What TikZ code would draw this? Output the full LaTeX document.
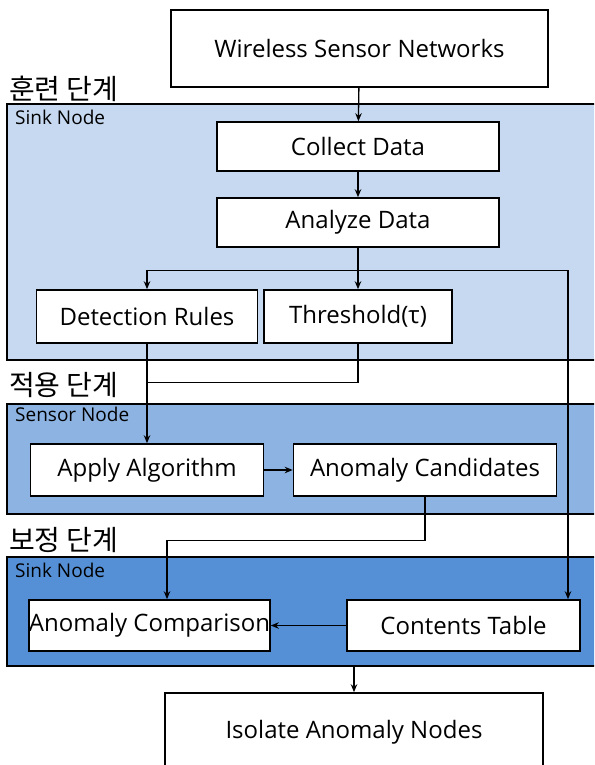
\documentclass[tikz,border=0pt]{standalone}
\usepackage{fontspec}
\setmainfont{Open Sans}
\newfontfamily\kofont{Noto Sans CJK KR}
\usetikzlibrary{arrows.meta,positioning}
\definecolor{trainblue}{HTML}{C6D9F0}
\definecolor{applyblue}{HTML}{8DB3E2}
\definecolor{fixblue}{HTML}{5590D6}
\tikzset{arr/.style={-{Stealth[length=8pt,width=6.5pt]}, line width=1.3pt},
  line/.style={line width=1.3pt},
  box/.style={draw, line width=1.6pt, fill=white, font=\fontsize{24}{28}\selectfont, inner sep=0pt},
  panel/.style={draw, line width=1.6pt, anchor=north west, minimum width=620pt, inner sep=0pt},
  stage/.style={anchor=south west, inner sep=0pt, font=\kofont\fontsize{28}{32}\selectfont},
  tag/.style={anchor=north west, inner sep=0pt, font=\fontsize{19}{22}\selectfont}}

\begin{document}
\begin{tikzpicture}[x=1pt, y=-1pt]
  \clip (0,0) rectangle (594,765);
  \fill[white] (0,0) rectangle (594,765);
  % phase panels
  \node[panel, fill=trainblue, minimum height=256pt] (p1) at (6,103) {};
  \node[panel, fill=applyblue, minimum height=110pt] (p2) at (6,403) {};
  \node[panel, fill=fixblue, minimum height=109pt] (p3) at (6,556) {};
  \node[stage] (s1) at (9,102) {훈련 단계};
  \node[stage] (s2) at (9,398) {적용 단계};
  \node[stage] (s3) at (9,553) {보정 단계};
  \node[tag] (t1) at (15,110) {Sink Node};
  \node[tag] (t2) at (15,407) {Sensor Node};
  \node[tag] (t3) at (15,563) {Sink Node};
  % steps
  \node[box, minimum width=377pt, minimum height=77pt] (wsn) at (359.5,48.5) {Wireless Sensor Networks};
  \node[box, minimum width=282pt, minimum height=49pt] (collect) at (358,146.5) {Collect Data};
  \node[box, minimum width=282pt, minimum height=49pt] (analyze) at (358,222.5) {Analyze Data};
  \node[box, minimum width=221pt, minimum height=53pt] (rules) at (147,316.5) {Detection Rules};
  \node[box, minimum width=188pt, minimum height=53pt] (thresh) at (358,316.5) {Threshold(τ)};
  \node[box, minimum width=233pt, minimum height=52pt] (apply) at (147,470) {Apply Algorithm};
  \node[box, minimum width=263pt, minimum height=52pt] (cand) at (425,470) {Anomaly Candidates};
  \node[box, minimum width=239pt, minimum height=51pt] (comp) at (149.5,625.5) {Anomaly Comparison};
  \node[box, minimum width=233pt, minimum height=51pt] (table) at (463.5,625.5) {Contents Table};
  \node[box, minimum width=378pt, minimum height=78pt] (iso) at (354,732) {Isolate Anomaly Nodes};
  % flow
  \draw[arr] (wsn) -- (collect);
  \draw[arr] (collect) -- (analyze);
  \draw[line] (analyze.south) -- ++(0,23) coordinate (split);
  \draw[arr] (split) -| (rules.north);
  \draw[arr] (split) -- (thresh.north);
  \draw[arr] (split) -| ([xshift=104.5pt]table.north);
  \draw[line] (thresh.south) -- ++(0,39) coordinate (join) -- (join -| rules.south);
  \draw[arr] (rules.south) -- (apply.north);
  \draw[arr] (apply) -- (cand);
  \draw[arr] (cand.south) -- ++(0,44) -| ([xshift=17.5pt]comp.north);
  \draw[arr] (table) -- (comp);
  \draw[arr] (p3.south -| iso.north) -- (iso.north);
\end{tikzpicture}
\end{document}
